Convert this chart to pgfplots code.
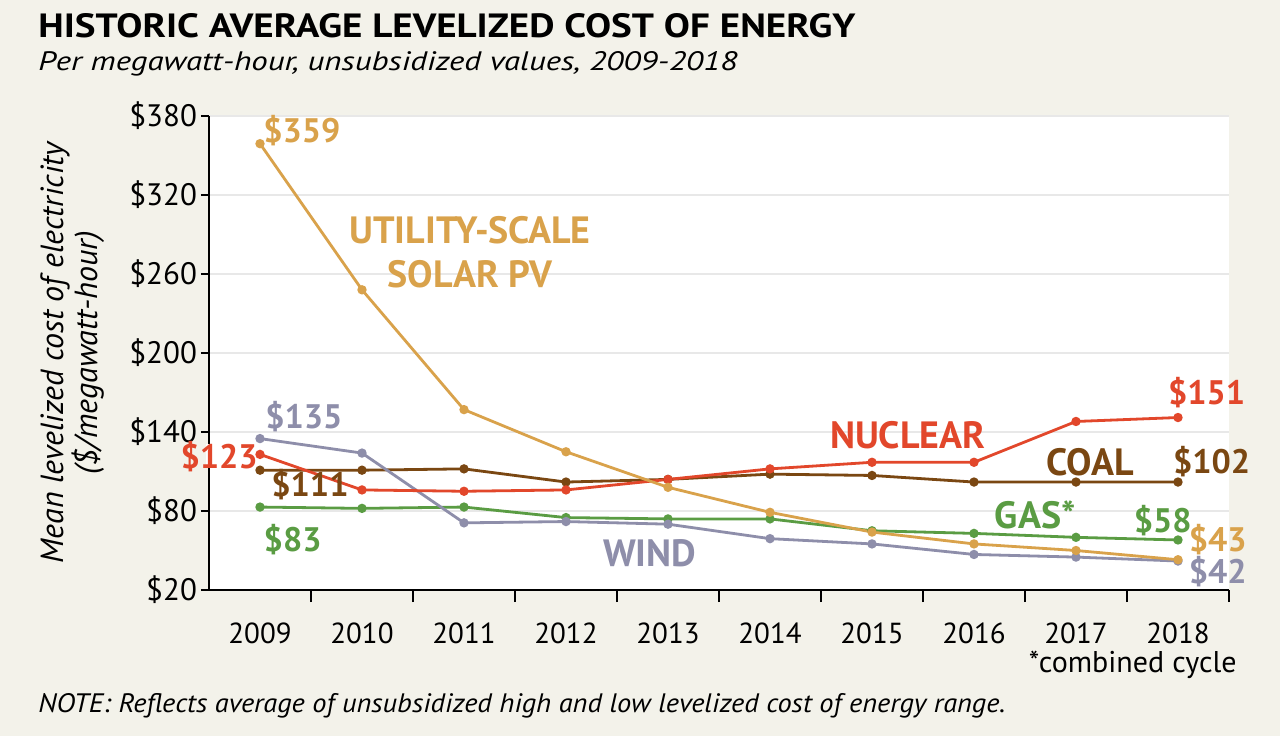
\documentclass[border=0pt]{standalone}
\usepackage{fontspec}
\setmainfont{PT Sans}
\usepackage{graphicx}
\usepackage{pgfplots}
\pgfplotsset{compat=1.18}
\definecolor{bgc}{HTML}{F3F2EA}
\definecolor{solar}{HTML}{D9A24B}
\definecolor{nuclear}{HTML}{E2472B}
\definecolor{coal}{HTML}{7A4712}
\definecolor{gas}{HTML}{5A9C43}
\definecolor{wind}{HTML}{8E8EAA}
\definecolor{gridc}{HTML}{E8E8E8}
\newcommand{\fs}[1]{\fontsize{#1}{#1}\selectfont}
\begin{document}
\begin{tikzpicture}[x=1pt,y=1pt]
\path[use as bounding box, fill=bgc] (0,0) rectangle (640,368);
\node[anchor=base west, inner sep=0] at (19,349.5) {\resizebox{408.5pt}{12pt}{\bfseries HISTORIC AVERAGE LEVELIZED COST OF ENERGY}};
\node[anchor=base west, inner sep=0] at (19,333) {\resizebox{349.5pt}{9.5pt}{\itshape Per megawatt-hour, unsubsidized values, 2009-2018}};
\node[anchor=base west, inner sep=0] at (19,12) {\resizebox{483.5pt}{9.5pt}{\itshape NOTE: Reflects average of unsubsidized high and low levelized cost of energy range.}};
\node[anchor=base east, inner sep=0, font=\fs{15}] at (618.5,32) {*combined cycle};
\begin{axis}[
  at={(104.5pt,73pt)}, anchor=south west,
  width=510pt, height=237pt, scale only axis,
  xmin=-0.5, xmax=9.5, ymin=20, ymax=380,
  clip=false,
  axis background/.style={fill=white},
  axis lines=left,
  axis line style={-, line width=1.3pt, black},
  xtick={0,...,9},
  xticklabels={2009,2010,2011,2012,2013,2014,2015,2016,2017,2018},
  minor xtick={0.5,1.5,...,9.5},
  major x tick style={draw=none},
  minor tick length=6pt,
  major tick length=4pt,
  tick align=outside,
  tick style={black, line width=1pt},
  ytick={20,80,...,380},
  yticklabels={\$20,\$80,\$140,\$200,\$260,\$320,\$380},
  ymajorgrids,
  major grid style={gridc, line width=1.2pt},
  xticklabel style={font=\fs{14.5}, yshift=-9pt},
  yticklabel style={font=\fs{15.5}, xshift=1.5pt},
  ylabel={Mean levelized cost of electricity\\(\$/megawatt-hour)},
  ylabel style={at={(axis description cs:-0.134,0.5)}, anchor=center, align=center, font=\fontsize{16}{17}\selectfont\itshape},
  every axis plot/.append style={line width=1.4pt, mark=*, mark size=1.6pt},
]
\addplot[coal, mark options={fill=coal}] coordinates {(0,111)(1,111)(2,112)(3,102)(4,104)(5,108)(6,107)(7,102)(8,102)(9,102)};
\addplot[gas, mark options={fill=gas}] coordinates {(0,83)(1,82)(2,83)(3,75)(4,74)(5,74)(6,65)(7,63)(8,60)(9,58)};
\addplot[wind, mark options={fill=wind}] coordinates {(0,135)(1,124)(2,71)(3,72)(4,70)(5,59)(6,55)(7,47)(8,45)(9,42)};
\addplot[nuclear, mark options={fill=nuclear}] coordinates {(0,123)(1,96)(2,95)(3,96)(4,104)(5,112)(6,117)(7,117)(8,148)(9,151)};
\addplot[solar, mark options={fill=solar}] coordinates {(0,359)(1,248)(2,157)(3,125)(4,98)(5,79)(6,64)(7,55)(8,50)(9,43)};
\draw[white, line width=3pt] (axis cs:-0.5,113) -- (axis cs:-0.5,131);
\begin{scope}[every node/.style={font=\fs{17}\bfseries, inner sep=0}]
\node[text=solar] at (axis cs:0.41,368.6) {\$359};
\node[text=wind] at (axis cs:0.43,151.4) {\$135};
\node[text=nuclear] at (axis cs:-0.40,121) {\$123};
\node[text=coal] at (axis cs:0.49,99.7) {\$111};
\node[text=gas] at (axis cs:0.32,58) {\$83};
\node[text=nuclear] at (axis cs:9.28,169.6) {\$151};
\node[text=coal] at (axis cs:9.33,117.2) {\$102};
\node[text=gas] at (axis cs:8.85,72.4) {\$58};
\node[text=solar] at (axis cs:9.39,58) {\$43};
\node[text=wind] at (axis cs:9.39,33.7) {\$42};
\end{scope}
\begin{scope}[every node/.style={font=\fontsize{19}{22}\selectfont\bfseries, inner sep=0, align=center}]
\node[text=solar] at (axis cs:2.06,276.7) {UTILITY-SCALE\\SOLAR PV};
\node[text=wind] at (axis cs:3.82,48.1) {WIND};
\node[text=nuclear] at (axis cs:6.35,137.7) {NUCLEAR};
\node[text=coal] at (axis cs:8.14,117.2) {COAL};
\node[text=gas] at (axis cs:7.6,77) {GAS*};
\end{scope}
\end{axis}
\end{tikzpicture}
\end{document}
